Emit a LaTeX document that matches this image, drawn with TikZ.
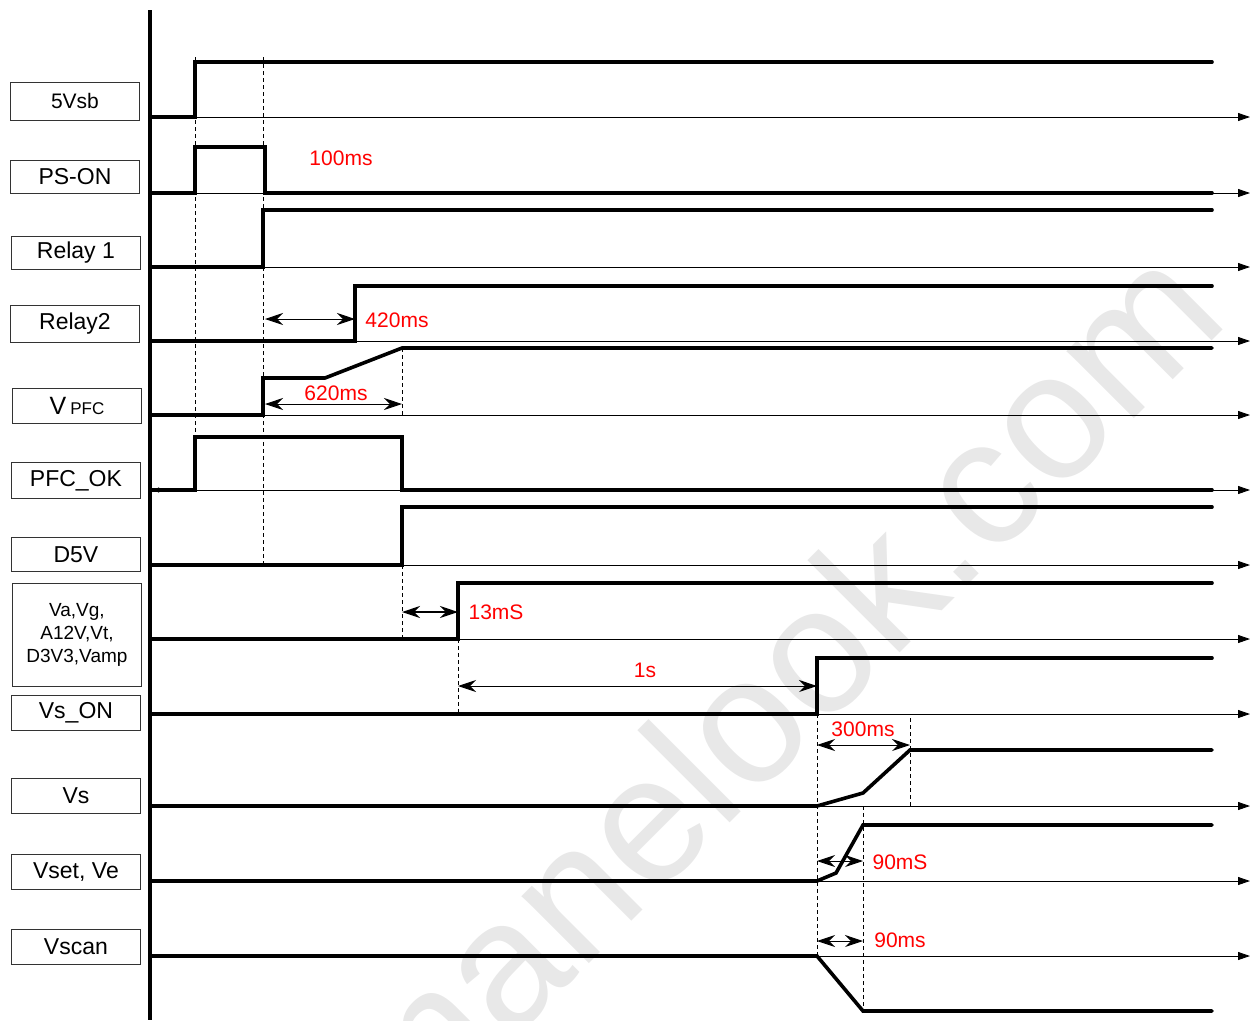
\documentclass[tikz,border=0pt]{standalone}
\usepackage{fontspec}
\setmainfont{Liberation Sans}
\usetikzlibrary{arrows.meta}
\begin{document}
\begin{tikzpicture}[x=1pt,y=-1pt,
  lbl/.style={draw=black!80,line width=0.9pt,minimum width=129pt,inner sep=0pt,anchor=north west,font=\fontsize{21}{23}\selectfont,align=center},
  sig/.style={line width=3.6pt,line join=miter,line cap=round},
  axis/.style={line width=0.9pt,-{Triangle[length=12pt,width=8pt]}},
  guide/.style={line width=0.9pt,dash pattern=on 4pt off 3pt},
  dim/.style={line width=0.9pt,{Stealth[length=18pt,width=12pt,inset=6pt]}-{Stealth[length=18pt,width=12pt,inset=6pt]}},
  ms/.style={text=red,font=\fontsize{21}{23}\selectfont,inner sep=0pt}]
\useasboundingbox (0,0) rectangle (1252,1020);
% watermark
\node[text=black!9,rotate=45,font=\fontsize{180}{190}\selectfont] (wm) at (772,690) {manelook.com};
% labels
\node[lbl,minimum height=38pt] (l1) at (10,82) {5Vsb};
\node[lbl,minimum height=33pt,font=\fontsize{23}{25}\selectfont] (l2) at (10,160) {PS-ON};
\node[lbl,minimum height=33pt,font=\fontsize{23}{25}\selectfont] (l3) at (11,236) {Relay 1};
\node[lbl,minimum height=37pt,font=\fontsize{23}{25}\selectfont] (l4) at (10,305) {Relay2};
\node[lbl,minimum height=35pt] (l5) at (12,388) {\fontsize{25}{27}\selectfont V\,\fontsize{17}{19}\selectfont PFC};
\node[lbl,minimum height=36pt,font=\fontsize{23}{25}\selectfont] (l6) at (11,462) {PFC\_OK};
\node[lbl,minimum height=34pt,font=\fontsize{23}{25}\selectfont] (l7) at (11,537) {D5V};
\node[lbl,minimum height=103pt,font=\fontsize{19}{23}\selectfont] (l8) at (12,583) {Va,Vg,\\A12V,Vt,\\D3V3,Vamp};
\node[lbl,minimum height=35pt,font=\fontsize{23}{25}\selectfont] (l9) at (11,695) {Vs\_ON};
\node[lbl,minimum height=35pt,font=\fontsize{23}{25}\selectfont] (l10) at (11,778) {Vs};
\node[lbl,minimum height=35pt,font=\fontsize{23}{25}\selectfont] (l11) at (11,854) {Vset, Ve};
\node[lbl,minimum height=35pt,font=\fontsize{23}{25}\selectfont] (l12) at (11,929) {Vscan};
% axes
\foreach \y in {117,193,267,341,415,490,565,639,714,806,881,956}
  \draw[axis] (150,\y) -- (1250,\y);
\draw[line width=0.9pt,-{Triangle[length=6pt,width=5pt]}] (160,490) -- (153,490);
\draw[line width=4pt] (150,10) -- (150,1020);
% dashed guides
\draw[guide] (195,57) -- (195,437);
\draw[guide] (263,57) -- (263,563);
\draw[guide] (402,348) -- (402,415);
\draw[guide] (402,565) -- (402,639);
\draw[guide] (458,639) -- (458,712);
\draw[guide] (817,714) -- (817,956);
\draw[guide] (910,718) -- (910,806);
\draw[guide] (863,806) -- (863,1011);
% signals
\draw[sig] (150,117) -- (195,117) -- (195,62) -- (1212,62);
\draw[sig] (150,193) -- (195,193) -- (195,147) -- (265,147) -- (265,193) -- (1212,193);
\draw[sig] (150,267) -- (263,267) -- (263,210) -- (1212,210);
\draw[sig] (150,341) -- (355,341) -- (355,286) -- (1212,286);
\draw[sig] (150,415) -- (263,415) -- (263,378) -- (325,378) -- (402,348) -- (1212,348);
\draw[sig] (150,490) -- (195,490) -- (195,437) -- (402,437) -- (402,490) -- (1212,490);
\draw[sig] (150,565) -- (402,565) -- (402,507) -- (1212,507);
\draw[sig] (150,639) -- (458,639) -- (458,583) -- (1212,583);
\draw[sig] (150,714) -- (817,714) -- (817,658) -- (1212,658);
\draw[sig] (150,806) -- (817,806) -- (863,793) -- (910,750) -- (1212,750);
\draw[sig] (150,881) -- (817,881) -- (836,873) -- (863,825) -- (1212,825);
\draw[sig] (150,956) -- (817,956) -- (863,1011) -- (1212,1011);
% dimension arrows
\coordinate (a1) at (265,319); \coordinate (b1) at (355,319);
\draw[dim] (a1) -- (b1);
\coordinate (a2) at (265,404); \coordinate (b2) at (402,404);
\draw[dim] (a2) -- (b2);
\coordinate (a3) at (402,612); \coordinate (b3) at (458,612);
\draw[dim,line width=1.6pt] (a3) -- (b3);
\coordinate (a4) at (458,686); \coordinate (b4) at (817,686);
\draw[dim] (a4) -- (b4);
\coordinate (a5) at (817,745); \coordinate (b5) at (910,745);
\draw[dim] (a5) -- (b5);
\coordinate (a6) at (817,861); \coordinate (b6) at (863,861);
\draw[dim] (a6) -- (b6);
\coordinate (a7) at (817,941); \coordinate (b7) at (863,941);
\draw[dim] (a7) -- (b7);
% labels of times
\node[ms] (t1) at (341,158) {100ms};
\node[ms] (t2) at (397,320) {420ms};
\node[ms] (t3) at (336,393) {620ms};
\node[ms] (t4) at (496,612) {13mS};
\node[ms] (t5) at (645,670) {1s};
\node[ms] (t6) at (863,729) {300ms};
\node[ms] (t7) at (900,862) {90mS};
\node[ms] (t8) at (900,940) {90ms};
\end{tikzpicture}
\end{document}
